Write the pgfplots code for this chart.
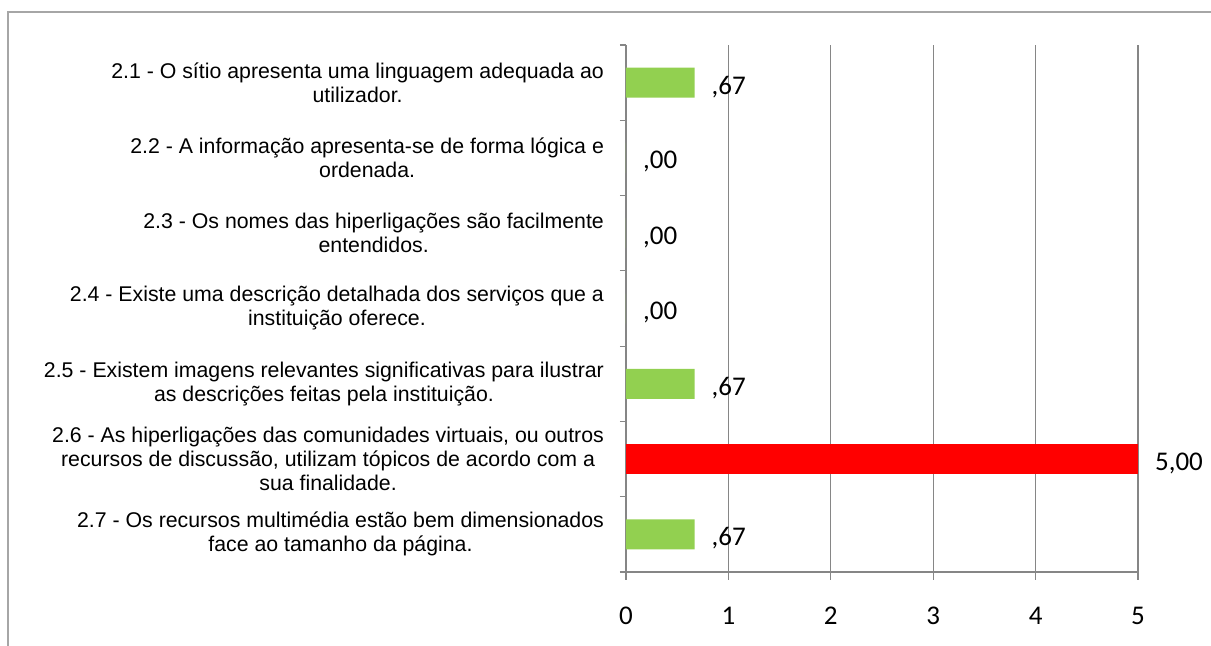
\documentclass[border=0pt]{standalone}
\usepackage{fontspec}
\setmainfont{Liberation Sans}
\newfontfamily\calibri{Carlito}
\usepackage{pgfplots}
\pgfplotsset{compat=1.18}
\usepackage{pgfplotstable}

\definecolor{bargreen}{HTML}{92D050}
\definecolor{gridgray}{HTML}{868686}

\pgfplotstableread{
y   val   lab
1   0.67  {,67}
2   0     {,00}
3   0     {,00}
4   0     {,00}
5   0.67  {,67}
7   0.67  {,67}
}\greendata

\pgfplotstableread{
y   val   lab
6   5     {5,00}
}\reddata

\begin{document}
\begin{tikzpicture}
  % outer frame (cut off on the right and bottom as in the original)
  \draw[gray!70, line width=0.8pt] (4pt,-10pt) -- (4pt,317pt) -- (620pt,317pt);
  \begin{axis}[
    at={(313pt,37pt)}, anchor=south west,
    scale only axis,
    width=256pt, height=263.5pt,
    xbar, bar width=15pt,
    xmin=0, xmax=5,
    ymin=0.5, ymax=7.5,
    y dir=reverse,
    axis x line=bottom, axis y line=left,
    axis line style={-, gridgray, line width=0.6pt},
    xtick={0,...,5},
    ytick={1,...,7},
    minor ytick={0.5,1.5,...,7.5},
    yticklabels={
      {2.1 - O sítio apresenta uma linguagem adequada ao\\utilizador.},
      {2.2 - A informação apresenta-se de forma lógica e\\ordenada.},
      {2.3 - Os nomes das hiperligações são facilmente\\entendidos.},
      {2.4 - Existe uma descrição detalhada dos serviços que a\\instituição oferece.},
      {2.5 - Existem imagens relevantes significativas para ilustrar\\as descrições feitas pela instituição.},
      {2.6 - As hiperligações das comunidades virtuais, ou outros\\recursos de discussão, utilizam tópicos de acordo com a\\sua finalidade.},
      {2.7 - Os recursos multimédia estão bem dimensionados\\face ao tamanho da página.}
    },
    tick align=outside,
    major tick length=4pt, minor tick length=3pt,
    major y tick style={draw=none},
    minor y tick style={gridgray, line width=0.6pt},
    major x tick style={gridgray, line width=0.6pt},
    xmajorgrids=true,
    grid style={gridgray, line width=0.6pt},
    yticklabel style={align=center, font=\fontsize{10.65}{12}\selectfont, xshift=-3.5pt},
    xticklabel style={font=\calibri\fontsize{13.5}{15}\selectfont, yshift=-10pt},
    /pgf/number format/assume math mode=true,
    point meta=explicit symbolic,
    nodes near coords={\pgfplotspointmeta},
    every node near coord/.append style={font=\calibri\fontsize{13.5}{15}\selectfont, xshift=5pt, yshift=-2pt, anchor=west},
  ]
    \addplot[fill=bargreen, draw=none, bar shift=0pt]
      table[x=val, y=y, meta=lab] {\greendata};
    \addplot[fill=red, draw=none, bar shift=0pt]
      table[x=val, y=y, meta=lab] {\reddata};
  \end{axis}
  \pgfresetboundingbox
  \useasboundingbox (0,0) rectangle (605.5pt,323pt);
\end{tikzpicture}
\end{document}
